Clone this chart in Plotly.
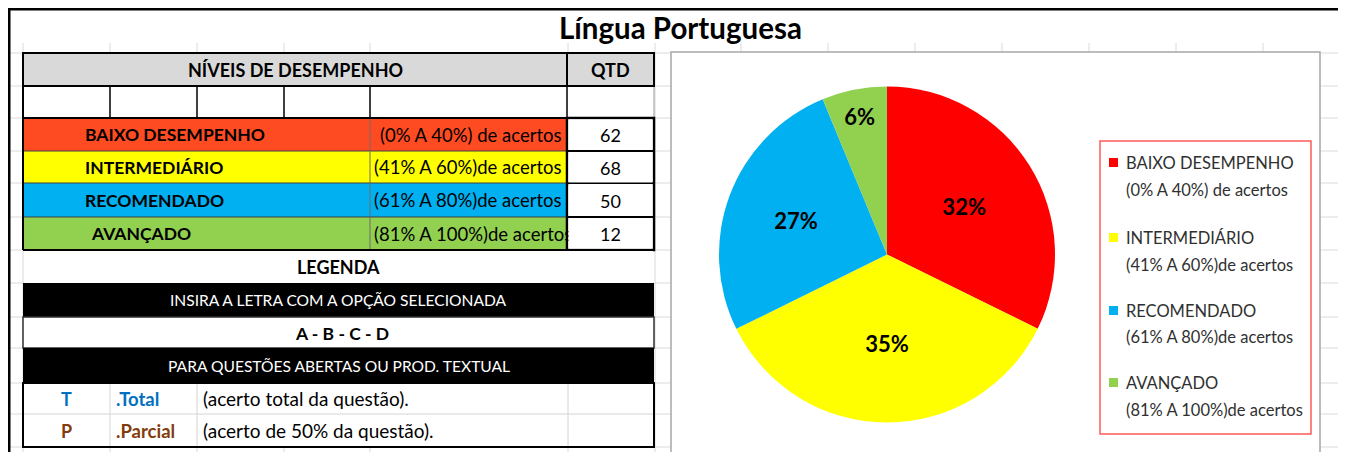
import plotly.graph_objects as go

# ---------------- data ----------------
title = "Língua Portuguesa"
header = ["NÍVEIS DE DESEMPENHO", "QTD"]
levels = ["BAIXO DESEMPENHO", "INTERMEDIÁRIO", "RECOMENDADO", "AVANÇADO"]
ranges = ["(0% A 40%) de acertos", "(41% A 60%)de acertos",
          "(61% A 80%)de acertos", "(81% A 100%)de acertos"]
qtd = [62, 68, 50, 12]
pct_labels = ["32%", "35%", "27%", "6%"]
legend_title = "LEGENDA"
legend_rows = ["INSIRA A LETRA COM A OPÇÃO SELECIONADA", "A - B - C - D",
               "PARA QUESTÕES ABERTAS OU PROD. TEXTUAL"]
codes = ["T", "P"]
code_names = [".Total", ".Parcial"]
code_desc = ["(acerto total da questão).", "(acerto de 50% da questão)."]

# ---------------- styles ----------------
row_fill = ["#FF4B22", "#FFFF00", "#00B0F0", "#92D050"]
pie_fill = ["#FF0000", "#FFFF00", "#00B0F0", "#92D050"]
code_colors = ["#0070C0", "#833C0C"]
FONT = "Lato"
GRID = "#DADADA"

W, H = 1346, 452
OFF = 8  # page body margin: figure starts at (8, 8) in the window


def X(px):
    return (px - OFF) / W


def Y(py):
    return 1 - (py - OFF) / H


shapes = []
annots = []


def rect(x0, y0, x1, y1, fill=None, line=None, lw=0, layer="below"):
    shapes.append(dict(type="rect", xref="paper", yref="paper",
                       x0=X(x0), x1=X(x1), y0=Y(y1), y1=Y(y0),
                       fillcolor=fill if fill else "rgba(0,0,0,0)",
                       line=dict(color=line if line else "rgba(0,0,0,0)", width=lw),
                       layer=layer))


def seg(x0, y0, x1, y1, color, lw=1, layer="below"):
    shapes.append(dict(type="line", xref="paper", yref="paper",
                       x0=X(x0), x1=X(x1), y0=Y(y0), y1=Y(y1),
                       line=dict(color=color, width=lw), layer=layer))


def txt(x, y, s, size, color="black", bold=False, anchor="center", **kw):
    annots.append(dict(xref="paper", yref="paper", x=X(x), y=Y(y), text=s,
                       showarrow=False, xanchor=anchor, yanchor="middle",
                       font=dict(family=FONT, size=size, color=color,
                                 weight="bold" if bold else "normal"), **kw))


# ---------------- sheet gridlines ----------------
grid_y = [53, 86, 118, 151, 183, 217, 250, 283, 317, 348, 383, 414, 447]
grid_x = [23, 110, 197, 284, 370, 568, 655, 741, 828, 915, 1002, 1089, 1176, 1263]
for gy in grid_y:
    seg(9, gy, 1342, gy, GRID, 1)
for gx in grid_x:
    seg(gx, 43, gx, 460, GRID, 1)

# ---------------- table ----------------
TL, TM, TQ, TR = 23, 370, 567, 654
# header
rect(TL, 53, TR, 86, fill="#D9D9D9")
txt((TL + TQ) / 2, 70, header[0], 18, bold=True)
txt((TQ + TR) / 2, 70, header[1], 18, bold=True)
# empty row
rect(TL, 86, TR, 118, fill="white")
for vx in [110, 197, 284, 370, 567]:
    seg(vx, 86, vx, 118, "black", 1.5)
seg(TR, 86, TR, 118, "#9A9A9A", 1)

row_top = [118, 151, 183, 217]
row_bot = [151, 183, 217, 250]
label_x = [83, 83, 83, 89]
range_x = [378, 372, 372, 372]
for i in range(len(levels)):
    rect(TL, row_top[i], TQ, row_bot[i], fill=row_fill[i])
for i in range(len(levels)):
    seg(TM, row_top[i], TM, row_bot[i], "#6E6E6E", 1)
    seg(TL, row_bot[i], TQ, row_bot[i], "#404040", 1)
    rect(TQ, row_top[i], TR, row_bot[i], fill="white", line="black", lw=2)
    cy = (row_top[i] + row_bot[i]) / 2
    txt(label_x[i], cy, levels[i], 17.5, bold=True, anchor="left")
    txt(range_x[i], cy, ranges[i], 18.5, anchor="left")
for i in range(len(levels)):
    cy = (row_top[i] + row_bot[i]) / 2
    txt((TQ + TR) / 2, cy, str(qtd[i]), 18, bgcolor="white",
        width=83, height=29, borderpad=0)

# borders of header block
rect(TL, 53, TR, 86, line="black", lw=2)
seg(TQ, 53, TQ, 86, "black", 2)
seg(TL, 86, TL, 250, "black", 2)
seg(TL, 118, TR, 118, "black", 2)
rect(TQ, 118, TR, 250, line="black", lw=2.5)
seg(TL, 250, TQ, 250, "black", 2)

# LEGENDA block
rect(TL + 1, 251, TR - 1, 283, fill="white")
txt((TL + TR) / 2, 267, legend_title, 18, bold=True)
rect(TL, 283, TR, 317, fill="black")
txt((TL + TR) / 2, 300, legend_rows[0], 15.6, color="white")
rect(TL, 317, TR, 348, fill="white", line="#303030", lw=1.5)
txt(342, 333, legend_rows[1], 17.5, bold=True)
rect(TL, 348, TR, 383, fill="black")
txt((TL + TR) / 2, 366, legend_rows[2], 15.6, color="white")

# T / P rows
code_top = [383, 414]
code_bot = [414, 447]
rect(TL, 383, TR, 447, fill="white")
for gx in [110, 197, 568]:
    seg(gx, 383, gx, 447, "#D4D4D4", 1)
seg(TL, 414, TR, 414, "#D4D4D4", 1)
rect(TL, 383, TR, 447, line="black", lw=2)
for i in range(len(codes)):
    cy = (code_top[i] + code_bot[i]) / 2
    txt(67, cy, codes[i], 18, color=code_colors[i], bold=True)
    txt(114, cy, code_names[i], 18.5, color=code_colors[i], bold=True, anchor="left")
    txt(201, cy, code_desc[i], 19, anchor="left")

# ---------------- chart box ----------------
rect(671, 52, 1320, 470, fill="white", line="#A6A6A6", lw=1.5)

# legend (custom)
rect(1100, 141, 1311, 434, line="#FF5B5B", lw=1.5, layer="above")
leg_y1 = [163, 238, 311, 383]
leg_y2 = [190, 265, 337, 410]
for i in range(len(levels)):
    rect(1109, leg_y1[i] - 5, 1118, leg_y1[i] + 4, fill=pie_fill[i], layer="above")
    txt(1124, leg_y1[i], levels[i], 16.5, color="#303030", anchor="left")
    txt(1124, leg_y2[i], ranges[i], 16.5, color="#303030", anchor="left")

# ---------------- outer frame & title ----------------
seg(8, 9, 1344, 9, "black", 3, layer="above")
seg(9, 8, 9, 470, "black", 3, layer="above")
seg(1343, 8, 1343, 470, "black", 3, layer="above")
txt(680, 27, title, 29.5, bold=True)

# ---------------- pie ----------------
cx, cy, D = 887, 254.5, 336
fig = go.Figure()
fig.add_trace(go.Pie(
    labels=levels, values=qtd, text=pct_labels, textinfo="text",
    sort=False, direction="clockwise", rotation=0,
    marker=dict(colors=pie_fill, line=dict(width=0)),
    textposition="inside", insidetextorientation="horizontal",
    textfont=dict(family=FONT, size=22, color="black", weight="bold"),
    insidetextfont=dict(family=FONT, size=22, color="black", weight="bold"),
    domain=dict(x=[X(cx - D / 2), X(cx + D / 2)], y=[Y(cy + D / 2), Y(cy - D / 2)]),
    showlegend=False, hoverinfo="skip"))

fig.update_layout(
    width=W, height=H, margin=dict(l=0, r=0, t=0, b=0),
    paper_bgcolor="white", plot_bgcolor="white",
    shapes=shapes, annotations=annots,
    uniformtext=dict(minsize=22, mode="show"),
    font=dict(family=FONT),
)
fig.write_html("out.html")
